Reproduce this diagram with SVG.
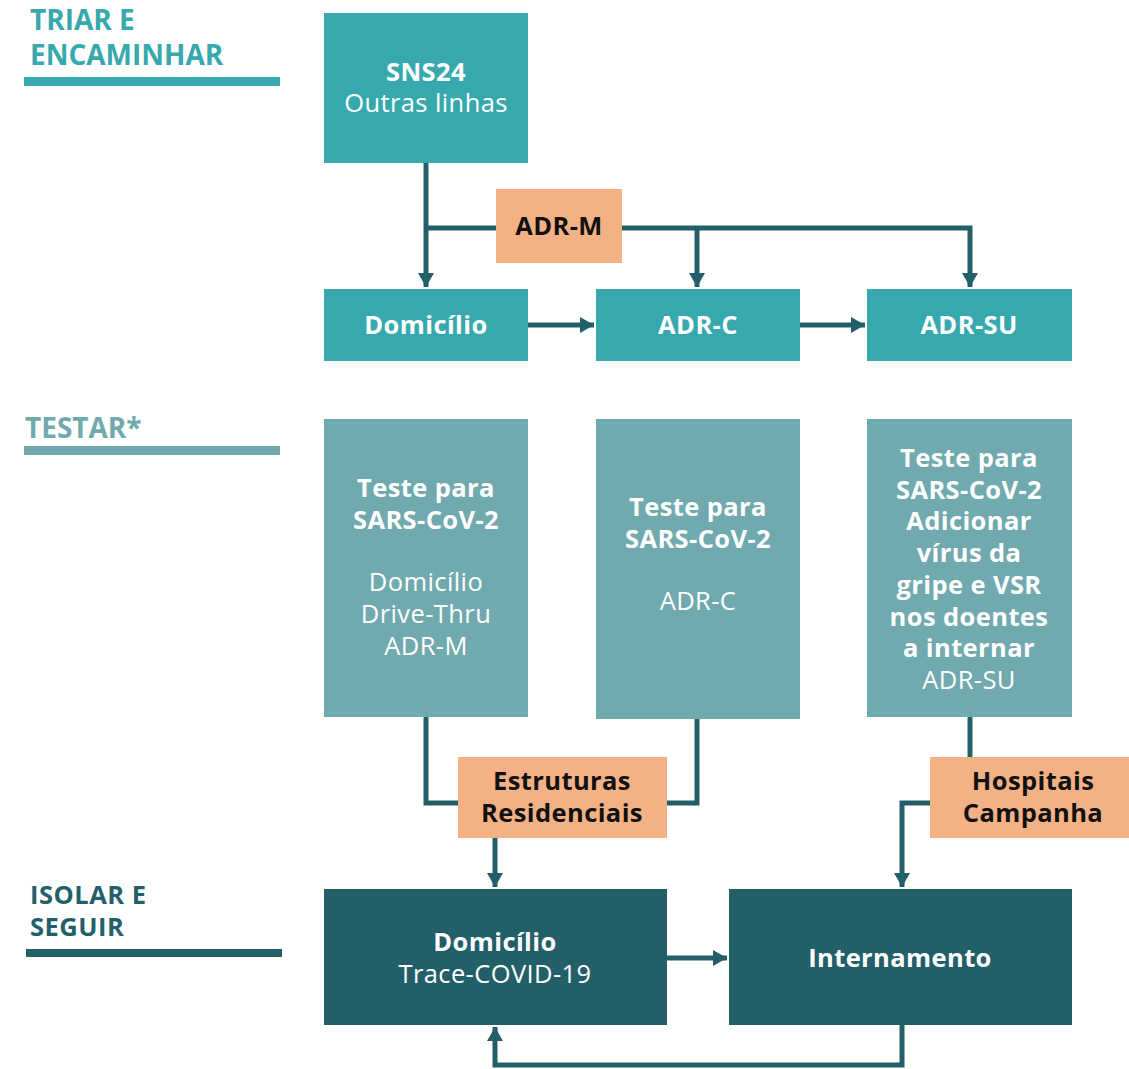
<svg xmlns="http://www.w3.org/2000/svg" width="1129" height="1069" viewBox="0 0 1129 1069">
<defs>
<style>
text{font-family:"Open Sans","Noto Sans","Liberation Sans",sans-serif;font-size:25.5px;letter-spacing:0.4px;text-anchor:middle}
.b{font-weight:bold}
.w{fill:#ffffff}
.k{fill:#111111}
.hdr{font-weight:bold;font-size:28px;letter-spacing:0;text-anchor:start}
.hdr2{font-weight:bold;font-size:25.5px;letter-spacing:0.5px;text-anchor:start}
.teal{fill:#37a9ae}
.gray{fill:#70aaae}
.dark{fill:#235f69}
.peach{fill:#f3b185}
.conn{fill:none;stroke:#235f69;stroke-width:5}
</style>
<marker id="ah" markerUnits="userSpaceOnUse" markerWidth="16" markerHeight="16" refX="14" refY="8" orient="auto">
<path d="M0,0 L14,8 L0,16 z" fill="#235f69"/>
</marker>
</defs>
<rect width="1129" height="1069" fill="#ffffff"/>

<g id="header-triar">
<text class="hdr" x="30" y="30" fill="#37a9ae">TRIAR E</text>
<text class="hdr" x="30" y="65" fill="#37a9ae">ENCAMINHAR</text>
<rect x="24" y="77" width="256" height="9" fill="#37a9ae"/>
</g>
<g id="header-testar">
<text class="hdr" x="25" y="438" fill="#70aaae">TESTAR*</text>
<rect x="24" y="446" width="256" height="9" fill="#70aaae"/>
</g>
<g id="header-isolar">
<text class="hdr2" x="30" y="904" fill="#235f69">ISOLAR E</text>
<text class="hdr2" x="30" y="936" fill="#235f69">SEGUIR</text>
<rect x="26" y="949" width="256" height="8" fill="#235f69"/>
</g>

<g id="connectors">
<path class="conn" d="M426,163 V287" marker-end="url(#ah)"/>
<path class="conn" d="M426,228 H496"/>
<path class="conn" d="M622,228 H970 V287" marker-end="url(#ah)"/>
<path class="conn" d="M697,228 V287" marker-end="url(#ah)"/>
<path class="conn" d="M528,325 H594" marker-end="url(#ah)"/>
<path class="conn" d="M800,325 H865" marker-end="url(#ah)"/>
<path class="conn" d="M426,717 V803 H458"/>
<path class="conn" d="M697,719 V803 H667"/>
<path class="conn" d="M495,838 V887" marker-end="url(#ah)"/>
<path class="conn" d="M970,717 V757"/>
<path class="conn" d="M930,803 H902 V887" marker-end="url(#ah)"/>
<path class="conn" d="M667,958 H727" marker-end="url(#ah)"/>
<path class="conn" d="M902,1025 V1065 H495 V1027" marker-end="url(#ah)"/>
</g>

<g id="sns24">
<rect class="teal" x="324" y="13" width="204" height="150"/>
<text class="w b" x="426" y="81">SNS24</text>
<text class="w" x="426" y="112">Outras linhas</text>
</g>
<g id="adr-m">
<rect class="peach" x="496" y="189" width="126" height="74"/>
<text class="k b" x="559" y="235">ADR-M</text>
</g>
<g id="domicilio-top">
<rect class="teal" x="324" y="289" width="204" height="72"/>
<text class="w b" x="426" y="334">Domicílio</text>
</g>
<g id="adr-c">
<rect class="teal" x="596" y="289" width="204" height="72"/>
<text class="w b" x="698" y="334">ADR-C</text>
</g>
<g id="adr-su">
<rect class="teal" x="867" y="289" width="205" height="72"/>
<text class="w b" x="969" y="334">ADR-SU</text>
</g>

<g id="teste1">
<rect class="gray" x="324" y="419" width="204" height="298"/>
<text class="w b" x="426" y="497">Teste para</text>
<text class="w b" x="426" y="528.5">SARS-CoV-2</text>
<text class="w" x="426" y="591">Domicílio</text>
<text class="w" x="426" y="623">Drive-Thru</text>
<text class="w" x="426" y="655">ADR-M</text>
</g>
<g id="teste2">
<rect class="gray" x="596" y="419" width="204" height="300"/>
<text class="w b" x="698" y="516">Teste para</text>
<text class="w b" x="698" y="547.5">SARS-CoV-2</text>
<text class="w" x="698" y="610">ADR-C</text>
</g>
<g id="teste3">
<rect class="gray" x="867" y="419" width="205" height="298"/>
<text class="w b" x="969" y="467">Teste para</text>
<text class="w b" x="969" y="498.5">SARS-CoV-2</text>
<text class="w b" x="969" y="530">Adicionar</text>
<text class="w b" x="969" y="562">vírus da</text>
<text class="w b" x="969" y="594">gripe e VSR</text>
<text class="w b" x="969" y="625.5">nos doentes</text>
<text class="w b" x="969" y="657">a internar</text>
<text class="w" x="969" y="688.5">ADR-SU</text>
</g>

<g id="estruturas">
<rect class="peach" x="458" y="757" width="209" height="81"/>
<text class="k b" x="562" y="790">Estruturas</text>
<text class="k b" x="562" y="821.5">Residenciais</text>
</g>
<g id="hospitais">
<rect class="peach" x="930" y="757" width="199" height="81"/>
<text class="k b" x="1033" y="790">Hospitais</text>
<text class="k b" x="1033" y="821.5">Campanha</text>
</g>

<g id="domicilio-isolar">
<rect class="dark" x="324" y="889" width="343" height="136"/>
<text class="w b" x="495" y="951">Domicílio</text>
<text class="w" x="495" y="982.5">Trace-COVID-19</text>
</g>
<g id="internamento">
<rect class="dark" x="729" y="889" width="343" height="136"/>
<text class="w b" x="900" y="967">Internamento</text>
</g>
</svg>
